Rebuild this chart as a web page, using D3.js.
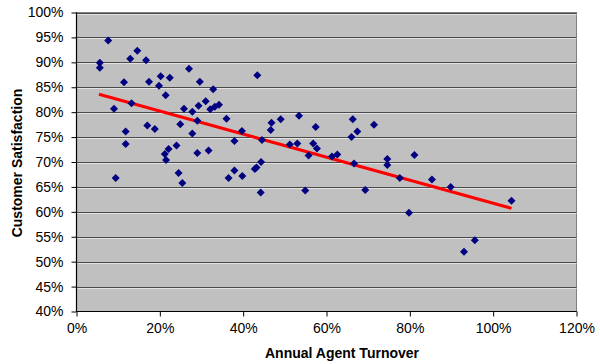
<!DOCTYPE html>
<html><head><meta charset="utf-8">
<script src="https://cdn.jsdelivr.net/npm/d3@7"></script>
<style>body{margin:0;background:#fff}svg{display:block}</style>
</head><body><svg id="c" width="600" height="364"></svg>
<script>
const turnover = [5.6,5.6,7.6,9.0,9.4,11.4,11.8,11.8,12.9,13.2,14.6,16.7,17.4,17.0,18.8,20.2,19.8,22.4,21.4,24.9,25.8,27.0,27.8,27.8,29.0,29.6,29.3,31.0,32.1,32.8,33.2,34.2,36.0,37.9,29.0,31.7,24.0,22.1,21.2,21.5,24.5,25.4,36.5,37.9,43.4,39.7,44.5,46.8,46.6,49.0,53.4,51.2,53.0,57.4,56.8,57.7,55.7,61.3,62.6,66.3,67.4,66.0,71.4,74.6,74.6,39.8,42.8,43.2,44.3,44.2,54.9,66.6,69.3,77.6,79.8,81.1,85.3,89.8,104.4,95.6,93.0];
const satisfaction = [89.9,88.9,94.4,80.7,66.8,86.0,76.1,73.6,90.7,81.8,92.3,90.4,86.1,77.3,76.6,87.2,85.3,86.9,83.4,77.6,80.7,88.7,80.1,75.7,78.3,86.1,81.3,82.2,80.6,84.6,81.1,81.5,78.7,74.2,71.8,72.3,73.3,72.6,71.6,70.4,67.8,65.8,66.8,68.3,87.4,76.2,74.4,77.9,76.4,78.6,79.3,73.5,73.7,77.0,73.7,72.7,71.3,71.1,71.5,78.6,76.1,75.0,77.5,70.6,69.4,67.2,68.6,68.9,70.0,63.9,64.3,69.7,64.4,66.8,59.8,71.4,66.5,65.0,62.2,54.3,52.0];
const trendX = [5.4, 104.4];
const trendY = [83.6, 60.7];
const xTicks = [0,20,40,60,80,100,120];
const yTicks = [40,45,50,55,60,65,70,75,80,85,90,95,100];
const xTitle = "Annual Agent Turnover";
const yTitle = "Customer Satisfaction";

const svg = d3.select("#c");
const L = 76.5, R = 576.5, T = 12.5, B = 311.5;
const x = d3.scaleLinear().domain([0,120]).range([L,R]);
const y = d3.scaleLinear().domain([40,100]).range([B,T]);
const font = "'Liberation Sans', Arial, sans-serif";

svg.append("rect").attr("x",L).attr("y",T).attr("width",R-L).attr("height",B-T)
  .attr("fill","#c0c0c0").attr("stroke","#808080").attr("stroke-width",1);

// gridlines
const g = svg.append("g");
yTicks.filter(v=>v>40).forEach(v=>{
  g.append("line").attr("x1",L).attr("x2",R).attr("y1",Math.round(y(v))+1.5).attr("y2",Math.round(y(v))+1.5)
    .attr("stroke","#e2e2e2").attr("stroke-width",1);
  g.append("line").attr("x1",L).attr("x2",R).attr("y1",Math.round(y(v))+0.5).attr("y2",Math.round(y(v))+0.5)
    .attr("stroke","#4a4a4a").attr("stroke-width",1);
});

// axes
const yAxis = d3.axisLeft(y).tickValues(yTicks).tickFormat(d=>d+"%").tickSize(5).tickPadding(8);
const xAxis = d3.axisBottom(x).tickValues(xTicks).tickFormat(d=>d+"%").tickSize(5).tickPadding(7);
const ya = svg.append("g").attr("transform",`translate(${L},0)`).call(yAxis);
const xa = svg.append("g").attr("transform",`translate(0,${B})`).call(xAxis);
[ya,xa].forEach(a=>{
  a.selectAll("path").attr("stroke","#000").attr("stroke-width",1.2);
  a.selectAll("line").attr("stroke","#000");
  a.selectAll("text").attr("font-family",font).attr("font-size",14).attr("fill","#000");
});
xa.select(".domain").attr("d",`M${L},0H${R}`);
ya.select(".domain").attr("d",`M0,${T}V${B}`);

// trend line
svg.append("line")
  .attr("x1",x(trendX[0])).attr("y1",y(trendY[0]))
  .attr("x2",x(trendX[1])).attr("y2",y(trendY[1]))
  .attr("stroke","#ff0000").attr("stroke-width",3);

// points
const data = turnover.map((t,i)=>({t, s:satisfaction[i]}));
svg.append("g").selectAll("path").data(data).join("path")
  .attr("d",d=>{const cx=x(d.t), cy=y(d.s), r=4;
    return `M${cx},${cy-r}L${cx+r},${cy}L${cx},${cy+r}L${cx-r},${cy}Z`;})
  .attr("fill","#000080");

// titles
svg.append("text").attr("x",342).attr("y",358).attr("text-anchor","middle")
  .attr("font-family",font).attr("font-size",14).attr("font-weight","bold").text(xTitle);
svg.append("text").attr("transform","translate(22,163) rotate(-90)").attr("text-anchor","middle")
  .attr("font-family",font).attr("font-size",14).attr("font-weight","bold").text(yTitle);
</script></body></html>
